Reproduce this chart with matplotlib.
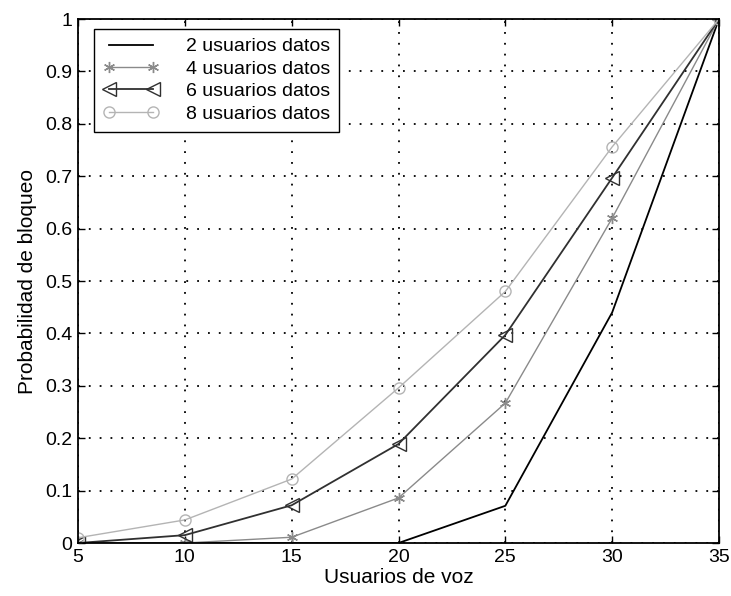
import matplotlib
matplotlib.use('Agg')
import matplotlib.pyplot as plt

plt.rcParams['font.family'] = ['Liberation Sans', 'DejaVu Sans']

# Datos
usuarios_voz = [5, 10, 15, 20, 25, 30, 35]
datos2 = [0, 0, 0, 0, 0.071, 0.44, 1]
datos4 = [0, 0, 0.011, 0.086, 0.267, 0.62, 1]
datos6 = [0, 0.015, 0.072, 0.189, 0.397, 0.697, 1]
datos8 = [0.01, 0.044, 0.122, 0.296, 0.48, 0.756, 1]
etiquetas = ['2 usuarios datos', '4 usuarios datos', '6 usuarios datos', '8 usuarios datos']

fig = plt.figure(figsize=(7.31, 5.96), dpi=100)
ax = fig.add_axes([78 / 731, 53 / 596, 641 / 731, 524 / 596])

ax.plot(usuarios_voz, datos2, color='black', lw=1.3, label=etiquetas[0])
ax.plot(usuarios_voz, datos4, color='#8a8a8a', lw=1.0, marker=(6, 2, 0), ms=8,
        mew=1.0, label=etiquetas[1])
ax.plot(usuarios_voz, datos6, color='#303030', lw=1.3, marker='<', ms=10,
        mfc='none', mew=1.0, label=etiquetas[2])
ax.plot(usuarios_voz, datos8, color='#b4b4b4', lw=1.0, marker='o', ms=8,
        mfc='none', mew=1.0, label=etiquetas[3])

ax.set_xlim(5, 35)
ax.set_ylim(0, 1)
ax.set_xticks(usuarios_voz)
ax.set_yticks([i / 10 for i in range(11)])
ax.set_yticklabels(['0', '0.1', '0.2', '0.3', '0.4', '0.5', '0.6', '0.7', '0.8', '0.9', '1'])
ax.tick_params(direction='in', labelsize=14, length=5, width=1, top=True, right=True, pad=4)
ax.grid(True, color='black', linestyle=(0, (1, 5)), linewidth=1.3)
for s in ax.spines.values():
    s.set_linewidth(1.3)

ax.set_xlabel('Usuarios de voz', fontsize=15, labelpad=2)
ax.set_ylabel('Probabilidad de bloqueo', fontsize=15, labelpad=6)

leg = ax.legend(loc='upper left', bbox_to_anchor=(16 / 641, 1 - 10 / 524), numpoints=2,
                fontsize=14, frameon=True, fancybox=False, edgecolor='black',
                framealpha=1, handlelength=2.9, borderpad=0.45, labelspacing=0.25,
                handletextpad=1.4, borderaxespad=0)
leg.get_frame().set_linewidth(1.0)

fig.savefig('out.png', dpi=100)
